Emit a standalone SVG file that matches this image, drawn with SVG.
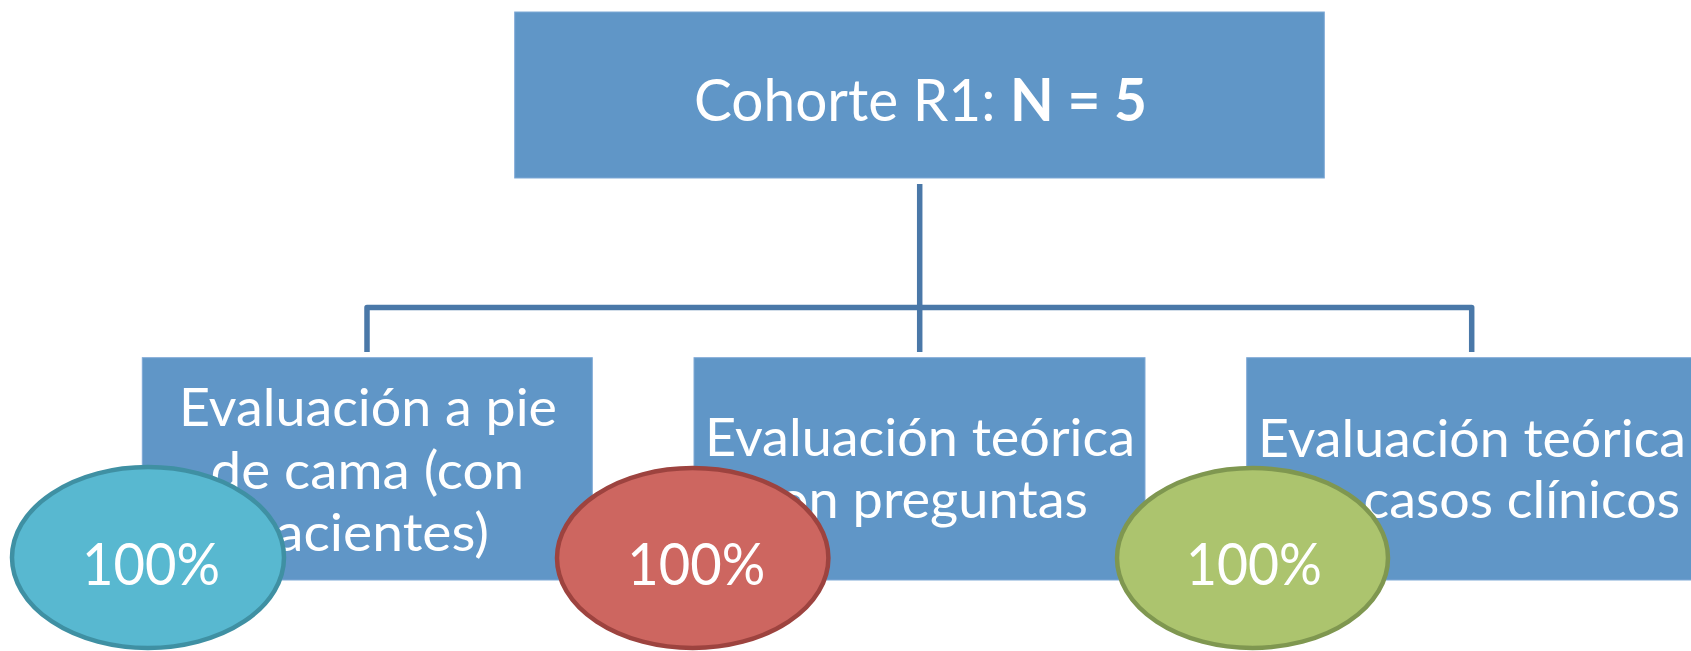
<svg xmlns="http://www.w3.org/2000/svg" width="1691" height="651" viewBox="0 0 1691 651">
<style>
.box{fill:#6096C7;stroke:#7FA9D6;stroke-width:1}
.t{font-family:Lato,"Open Sans",sans-serif;fill:#FFFFFF;font-size:53px}
.top{font-size:59px}
.pct{font-size:58px}
.conn{fill:none;stroke:#4A78A8;stroke-width:5.5;stroke-linejoin:round}
.e1{fill:#58B8D0;stroke:#3F90A3;stroke-width:4.5}
.e2{fill:#CD6660;stroke:#9D433F;stroke-width:4.5}
.e3{fill:#ACC46E;stroke:#7F9750;stroke-width:4.5}
</style>
<rect width="1691" height="651" fill="#FFFFFF"/>
<g id="connectors">
<path class="conn" d="M919.7,184 V352"/>
<path class="conn" d="M367,352 V307.5 H1471.7 V352"/>
</g>
<g id="root">
<rect class="box" x="514.7" y="12" width="809.6" height="166"/>
<text class="t top" x="694" y="121" textLength="453" lengthAdjust="spacingAndGlyphs">Cohorte R1: <tspan font-weight="bold">N = 5</tspan></text>
</g>
<g id="box1">
<rect class="box" x="142.3" y="357.7" width="450" height="222.3"/>
<text class="t" x="179" y="426" textLength="378" lengthAdjust="spacingAndGlyphs">Evaluación a pie</text>
<text class="t" x="210.5" y="488.5" textLength="313.5" lengthAdjust="spacingAndGlyphs">de cama (con</text>
<text class="t" x="245" y="551" textLength="244" lengthAdjust="spacingAndGlyphs">pacientes)</text>
</g>
<g id="box2">
<rect class="box" x="694" y="357.7" width="451" height="222.3"/>
<text class="t" x="705" y="456" textLength="430" lengthAdjust="spacingAndGlyphs">Evaluación teórica</text>
<text class="t" x="752.5" y="518" textLength="335.5" lengthAdjust="spacingAndGlyphs">con preguntas</text>
</g>
<g id="box3">
<rect class="box" x="1246.7" y="357.7" width="450" height="222.3"/>
<text class="t" x="1258" y="456.5" textLength="428" lengthAdjust="spacingAndGlyphs">Evaluación teórica</text>
<text class="t" x="1264" y="518" textLength="416" lengthAdjust="spacingAndGlyphs">con casos clínicos</text>
</g>
<g id="pct1">
<ellipse class="e1" cx="148" cy="557.5" rx="136" ry="90.5"/>
<text class="t pct" x="82" y="585" textLength="138" lengthAdjust="spacingAndGlyphs">100%</text>
</g>
<g id="pct2">
<ellipse class="e2" cx="692.7" cy="558" rx="135.7" ry="90"/>
<text class="t pct" x="627.3" y="585" textLength="138" lengthAdjust="spacingAndGlyphs">100%</text>
</g>
<g id="pct3">
<ellipse class="e3" cx="1252.5" cy="558" rx="135.5" ry="90"/>
<text class="t pct" x="1186" y="585" textLength="136" lengthAdjust="spacingAndGlyphs">100%</text>
</g>
</svg>
